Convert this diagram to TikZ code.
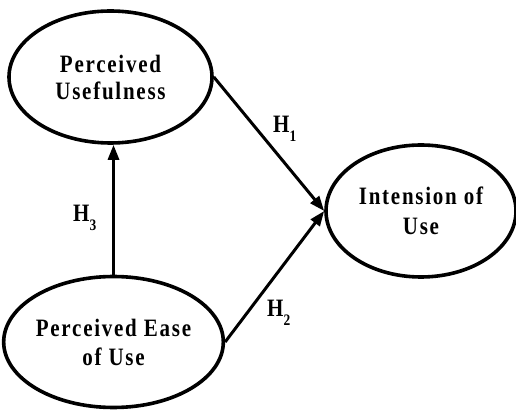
\documentclass[tikz,border=0pt]{standalone}
\usepackage{fontspec}
\setmainfont{Liberation Serif}[FakeStretch=0.84, LetterSpace=7]
\usetikzlibrary{shapes.geometric,arrows.meta}
\begin{document}
\begin{tikzpicture}[x=1pt,y=1pt,
  construct/.style={ellipse, draw, line width=3.6pt, inner sep=0pt, align=center,
    font=\fontsize{25}{27}\bfseries\selectfont},
  path/.style={line width=3pt, -{Triangle[length=15pt,width=11pt]}},
  hyp/.style={anchor=base west, inner sep=0pt, font=\fontsize{25}{25}\bfseries\selectfont}]
\useasboundingbox (0,0) rectangle (516,412);
% constructs
\node[construct, minimum width=203pt, minimum height=132pt] (pu) at (110.5,335)
  {Perceived\\Usefulness};
\node[construct, minimum width=201pt, minimum height=131pt,
  font=\fontsize{25}{29}\bfseries\selectfont] (peou) at (113.5,70)
  {Perceived Ease\\of Use};
\node[construct, minimum width=190pt, minimum height=132pt,
  font=\fontsize{25}{30}\bfseries\selectfont] (iu) at (421,201)
  {Intension of\\Use};
% paths
\draw[path] (pu.east) -- (iu.west);
\draw[path] (peou.east) -- (iu.west);
\draw[path] (peou.north) -- (peou.north |- pu.south);
% hypothesis labels
\node[hyp] (h1) at (273,279) {H\raisebox{-9pt}{\fontsize{16}{16}\selectfont 1}};
\node[hyp] (h2) at (267,95) {H\raisebox{-9pt}{\fontsize{16}{16}\selectfont 2}};
\node[hyp] (h3) at (73,190) {H\raisebox{-9pt}{\fontsize{16}{16}\selectfont 3}};
\end{tikzpicture}
\end{document}
